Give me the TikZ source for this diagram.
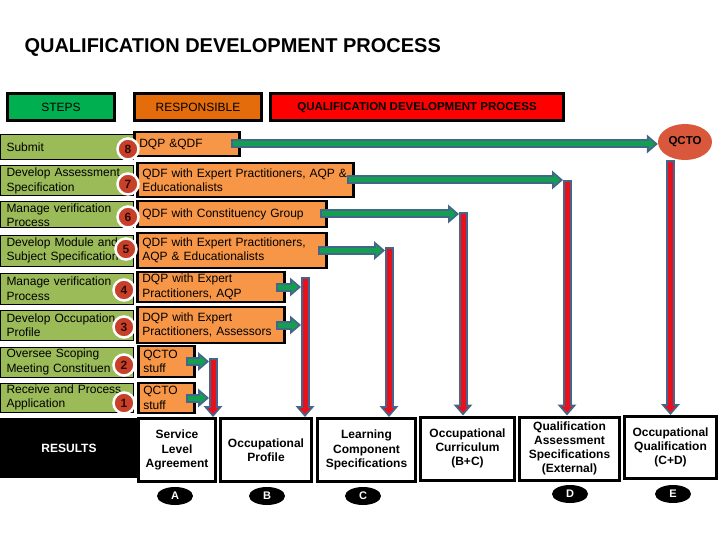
\documentclass[tikz,border=0pt]{standalone}
\usepackage{fontspec}
\setmainfont{Liberation Sans}
\usetikzlibrary{arrows.meta, shapes.geometric, calc}

\begin{document}
\begin{tikzpicture}
		[x=1pt,y=1pt,line join=miter,
		%Styles
		head box/.style={draw=black,line width=3pt,minimum height=27pt,inner sep=0pt,font=\fontsize{12}{14}\selectfont},
		step box/.style={draw=black,line width=1pt,fill=stepgreen,anchor=west,text width=121pt,inner xsep=6pt,inner ysep=0pt,align=left,font=\fontsize{12}{14.5}\selectfont},
		resp box/.style={draw=black,line width=2.5pt,fill=respfill,anchor=west,inner xsep=5pt,inner ysep=0pt,align=left,font=\fontsize{12}{14.5}\selectfont},
		num circle/.style={circle,draw=white,line width=2.5pt,fill=numred,minimum size=21pt,inner sep=0pt,text=numtext,font=\fontsize{12}{12}\selectfont\bfseries},
		result box/.style={draw=black,line width=3pt,fill=white,align=center,minimum height=63pt,inner sep=1pt,font=\fontsize{12}{14.2}\selectfont\bfseries},
		letter tag/.style={ellipse,fill=black,minimum width=36pt,minimum height=18pt,inner sep=0pt,text=white,font=\fontsize{11}{11}\selectfont\bfseries},
		block arrow/.style={draw=arrowedge,line width=9pt,-{Triangle[length=11pt,width=19pt,line width=0pt]},
			postaction={draw=#1,line width=5pt,shorten <=2pt,shorten >=3pt,-{Triangle[length=6pt,width=11pt,line width=0pt]}}}
		]
		
		%Colors
		\definecolor{stepgreen}{HTML}{9BBB59}
		\definecolor{headgreen}{HTML}{00B050}
		\definecolor{headorange}{HTML}{E46C0A}
		\definecolor{headred}{HTML}{FF0000}
		\definecolor{respfill}{HTML}{F79646}
		\definecolor{numred}{HTML}{C8402A}
		\definecolor{numtext}{HTML}{2B0A05}
		\definecolor{qctofill}{HTML}{D9583B}
		\definecolor{arrowedge}{HTML}{46658A}
		\definecolor{arrowgreen}{HTML}{10A050}
		\definecolor{arrowred}{HTML}{E8101C}
		
		\useasboundingbox (0,0) rectangle (720,-540);
		
		%The graphic
		\node[anchor=west,font=\fontsize{20}{22}\selectfont\bfseries] (title) at (21,-47) {QUALIFICATION DEVELOPMENT PROCESS};
		
		\node[head box,fill=headgreen,minimum width=107pt] (steps) at (61,-107.5) {STEPS};
		\node[head box,fill=headorange,minimum width=127pt] (resp) at (198,-107.5) {RESPONSIBLE};
		\node[head box,fill=headred,minimum width=293pt,font=\fontsize{11.5}{13}\selectfont\bfseries] (qdp) at (417,-107.5) {QUALIFICATION DEVELOPMENT PROCESS};
		
		\node[step box,minimum height=25pt] (s8) at (0,-147.5) {Submit};
		\node[step box,minimum height=30pt] (s7) at (0,-181) {Develop Assessment\\Specification};
		\node[step box,minimum height=26pt] (s6) at (0,-215) {Manage verification\\Process};
		\node[step box,minimum height=31pt] (s5) at (0,-250.5) {Develop Module and\\Subject Specification};
		\node[step box,minimum height=31pt] (s4) at (0,-288.5) {Manage verification\\Process};
		\node[step box,minimum height=30pt] (s3) at (0,-325) {Develop Occupation\\Profile};
		\node[step box,minimum height=30pt] (s2) at (0,-362) {Oversee Scoping\\Meeting Constituen};
		\node[step box,minimum height=29pt] (s1) at (0,-397.5) {Receive and Process\\Application};
		
		\node[resp box,text width=95pt,minimum height=24pt] (r8) at (133,-144) {DQP \&QDF};
		\node[resp box,text width=206pt,minimum height=34pt] (r7) at (136,-180) {QDF with Expert Practitioners, AQP \&\\Educationalists};
		\node[resp box,text width=179pt,minimum height=26pt] (r6) at (136,-214) {QDF with Constituency Group};
		\node[resp box,text width=179pt,minimum height=35pt] (r5) at (136,-250.5) {QDF with Expert Practitioners,\\AQP \& Educationalists};
		\node[resp box,text width=137pt,minimum height=30pt] (r4) at (136,-287) {DQP with Expert\\Practitioners, AQP};
		\node[resp box,text width=137pt,minimum height=36pt] (r3) at (136,-325) {DQP with Expert\\Practitioners, Assessors};
		\node[resp box,text width=46pt,minimum height=31pt] (r2) at (137,-361.5) {QCTO\\stuff};
		\node[resp box,text width=46pt,minimum height=30pt] (r1) at (137,-398) {QCTO\\stuff};
		
		\node[num circle] (n8) at (128,-149) {8};
		\node[num circle] (n7) at (128,-184) {7};
		\node[num circle] (n6) at (128,-217) {6};
		\node[num circle] (n5) at (126,-249) {5};
		\node[num circle] (n4) at (124,-290) {4};
		\node[num circle] (n3) at (124,-327) {3};
		\node[num circle] (n2) at (124,-365) {2};
		\node[num circle] (n1) at (124,-403) {1};
		
		\node[ellipse,fill=qctofill,minimum width=54pt,minimum height=36pt,inner sep=0pt,font=\fontsize{11.5}{12}\selectfont\bfseries] (qcto) at (685,-142) {QCTO};
		
		\node[fill=black,minimum width=138pt,minimum height=60pt,text=white,font=\fontsize{12}{14}\selectfont\bfseries] (results) at (69,-448) {RESULTS};
		\node[result box,minimum width=77pt] (resA) at (177,-450) {Service\\Level\\Agreement};
		\node[result box,minimum width=91pt] (resB) at (266,-450) {Occupational\\Profile};
		\node[result box,minimum width=98pt] (resC) at (366.5,-450) {Learning\\Component\\Specifications};
		\node[result box,minimum width=94pt] (resOC) at (467.5,-448.5) {Occupational\\Curriculum\\(B+C)};
		\node[result box,minimum width=100pt] (resD) at (569.5,-448.5) {Qualification\\Assessment\\Specifications\\(External)};
		\node[result box,minimum width=92pt,minimum height=62pt] (resE) at (670.5,-447.5) {Occupational\\Qualification\\(C+D)};
		
		\node[letter tag] (tagA) at (175,-496) {A};
		\node[letter tag] (tagB) at (267,-496) {B};
		\node[letter tag] (tagC) at (363,-496) {C};
		\node[letter tag] (tagD) at (570,-494) {D};
		\node[letter tag] (tagE) at (673,-494) {E};
		
		%Corners of the arrows
		\coordinate (k7) at (567,-180);
		\coordinate (k6) at (463,-212);
		\coordinate (k5) at (389,-247);
		\coordinate (k4) at (305,-277);
		\coordinate (k2) at (213,-358);
		
		\draw[block arrow=arrowred] (qcto.south -| resE.north) -- (resE.north);
		\draw[block arrow=arrowred] (k7) -- (k7 |- resD.north);
		\draw[block arrow=arrowred] (k6) -- (k6 |- resOC.north);
		\draw[block arrow=arrowred] (k5) -- (k5 |- resC.north);
		\draw[block arrow=arrowred] (k4) -- (k4 |- resB.north);
		\draw[block arrow=arrowred] (k2) -- (k2 |- resA.north);
		
		\draw[block arrow=arrowgreen] ([xshift=-10pt]r8.east) -- (r8.east -| qcto.west);
		\draw[block arrow=arrowgreen] ([xshift=-8pt]r7.east) -- ($(r7.east -| k7)-(4,0)$);
		\draw[block arrow=arrowgreen] ([xshift=-8pt]r6.east) -- ($(r6.east -| k6)-(4,0)$);
		\draw[block arrow=arrowgreen] ([xshift=-10pt]r5.east) -- ($(r5.east -| k5)-(4,0)$);
		\draw[block arrow=arrowgreen] ([xshift=-10pt]r4.east) -- ($(r4.east -| k4)-(4,0)$);
		\draw[block arrow=arrowgreen] ([xshift=-10pt]r3.east) -- ($(r3.east -| k4)-(4,0)$);
		\draw[block arrow=arrowgreen] ([xshift=-10pt]r2.east) -- ($(r2.east -| k2)-(4,0)$);
		\draw[block arrow=arrowgreen] ([xshift=-10pt]r1.east) -- ($(r1.east -| k2)-(4,0)$);
	\end{tikzpicture}
\end{document}
